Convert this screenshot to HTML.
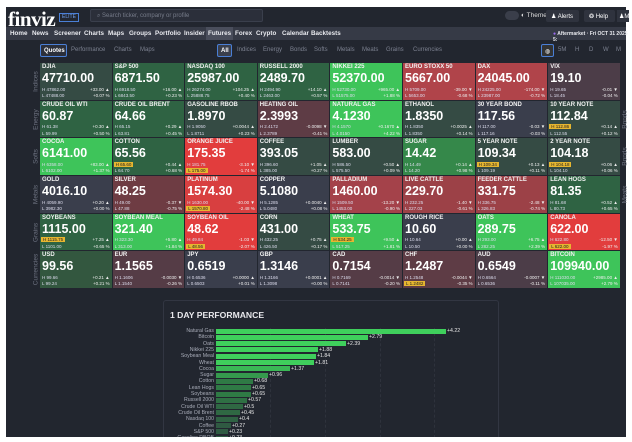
<!DOCTYPE html>
<html><head><meta charset="utf-8"><style>
*{margin:0;padding:0;box-sizing:border-box}
body{width:632px;height:442px;background:#fff;position:relative;overflow:hidden;font-family:"Liberation Sans",sans-serif;color:#fff}
#bg{position:absolute;left:6px;top:7px;width:620px;height:430px;background:#22262f}
.a{position:absolute;white-space:nowrap}
#nav{position:absolute;left:6px;top:27px;width:620px;height:13px;background:#363a46}
.n{position:absolute;top:30px;font-size:6.3px;font-weight:bold;color:#e8e9ee}
.s{position:absolute;top:47px;font-size:6px;color:#7c8190}
.t{position:absolute;width:71.6px;height:36.7px;overflow:hidden}
.t .nm{position:absolute;left:2px;top:1px;font-size:6px;font-weight:bold;color:#f0f0f0}
.t .v{position:absolute;left:2px;top:8px;font-size:12.5px;font-weight:bold}
.t .h,.t .l{position:absolute;left:2px;font-size:4.5px;color:#dde}
.t .h{top:23.5px}.t .l{top:30px}
.t .c,.t .p{position:absolute;right:2px;font-size:4.5px;color:#eee}
.t .c{top:23.5px}.t .p{top:30px}
.hl{background:#e6b630;color:#222;padding:0 2px;margin-left:-1px}
.N{background:#3a3e4c}.SG{background:#354b44}.MG{background:#2f6343}.BG{background:#3ec45a}
.SR{background:#4c3d48}.DR{background:#5e3c45}.MR{background:#9c4147}.RR{background:#b0444a}.BR{background:#e23d3d}
.side{position:absolute;font-size:6.5px;color:#6d7280;transform:rotate(-90deg);transform-origin:center}
.bl{position:absolute;right:418px;font-size:5.2px;color:#a8acb8;text-align:right}
.bar{position:absolute;left:216px;height:5px}
.bv{position:absolute;font-size:5.2px;color:#e6e6e6}
</style></head><body>
<div id="bg"></div>
<div class="a" style="left:8px;top:7px;font-family:'Liberation Serif',serif;font-size:21px;font-weight:bold;letter-spacing:-0.5px">finviz</div>
<div class="a" style="left:59px;top:13px;width:20px;height:9px;border:1px solid #4a7fd6;font-size:5px;color:#6fa0f0;text-align:center;line-height:7px">ELITE</div>
<div class="a" style="left:90px;top:9px;width:173px;height:13px;background:#2b2f3a;border:1px solid #3a3f4c;border-radius:2px;font-size:6px;color:#777c8a;padding:3px 0 0 6px">⌕ Search ticker, company or profile</div>
<div class="a" style="left:505px;top:11px;width:14px;height:9px;border-radius:5px;background:#3a3e4a"></div>
<div class="a" style="left:521px;top:12px;font-size:6.5px;color:#ddd">◐ Theme</div>
<div class="a" style="left:546px;top:10px;width:33px;height:12px;background:#2f333e;border-radius:2px;font-size:6px;padding:3px 0 0 5px">♟ Alerts</div>
<div class="a" style="left:584px;top:10px;width:31px;height:12px;background:#2f333e;border-radius:2px;font-size:6px;padding:3px 0 0 5px">❂ Help</div>
<div class="a" style="left:617px;top:10px;width:12px;height:12px;background:#2f333e;font-size:6px;padding:3px 0 0 2px">♟M</div>
<div id="nav"></div>
<div class="a" style="left:206px;top:27px;width:27px;height:13px;background:#4a4e5c"></div>
<div class="n" style="left:10px">Home</div><div class="n" style="left:32px">News</div><div class="n" style="left:54px">Screener</div><div class="n" style="left:84px">Charts</div><div class="n" style="left:108px">Maps</div><div class="n" style="left:129px">Groups</div><div class="n" style="left:155px">Portfolio</div><div class="n" style="left:184px">Insider</div><div class="n" style="left:208px">Futures</div><div class="n" style="left:235px">Forex</div><div class="n" style="left:256px">Crypto</div><div class="n" style="left:282px">Calendar</div><div class="n" style="left:311px">Backtests</div>
<div class="n" style="left:553px;font-size:5px;top:31px"><span style="color:#9b6cf0">●</span> Aftermarket · Fri OCT 31 2025 5:</div>
<div class="a" style="left:40px;top:44px;width:27px;height:13px;border:1px solid #4a7fd6;border-radius:2px;background:#2b2f3a;font-size:6px;font-weight:bold;padding:3px 0 0 3px">Quotes</div>
<div class="s" style="left:71px">Performance</div><div class="s" style="left:114px">Charts</div><div class="s" style="left:140px">Maps</div>
<div class="a" style="left:217px;top:44px;width:15px;height:13px;background:#3a3f4c;border:1px solid #4a7fd6;border-radius:2px;font-size:6px;font-weight:bold;padding:3px 0 0 3px">All</div>
<div class="s" style="left:237px">Indices</div><div class="s" style="left:263px">Energy</div><div class="s" style="left:290px">Bonds</div><div class="s" style="left:314px">Softs</div><div class="s" style="left:337px">Metals</div><div class="s" style="left:362px">Meats</div><div class="s" style="left:386px">Grains</div><div class="s" style="left:413px">Currencies</div>
<div class="a" style="left:541px;top:44px;width:13px;height:13px;border:1px solid #4a7fd6;border-radius:2px;background:#333;font-size:6px;padding:3px 0 0 3px">◍</div>
<div class="s" style="left:558px">5M</div><div class="s" style="left:575px">H</div><div class="s" style="left:589px">D</div><div class="s" style="left:603px">W</div><div class="s" style="left:616px">M</div>

<div class="side" style="left:24px;top:78px;width:24px;text-align:center">Indices</div>
<div class="side" style="left:24px;top:116px;width:24px;text-align:center">Energy</div>
<div class="side" style="left:24px;top:153px;width:24px;text-align:center">Softs</div>
<div class="side" style="left:24px;top:191px;width:24px;text-align:center">Metals</div>
<div class="side" style="left:24px;top:229px;width:24px;text-align:center">Grains</div>
<div class="side" style="left:18px;top:266px;width:36px;text-align:center">Currencies</div>
<div class="side" style="left:613px;top:116px;width:24px;text-align:center">Bonds</div>
<div class="side" style="left:613px;top:153px;width:24px;text-align:center">Bonds</div>
<div class="side" style="left:613px;top:191px;width:24px;text-align:center">Meats</div>

<!-- Row 1 -->
<div class="t SG" style="left:40px;top:63px"><div class="nm">DJIA</div><div class="v">47710.00</div><div class="h">H 47862.00</div><div class="l">L 47488.00</div><div class="c">+33.00 ▲</div><div class="p">+0.07 %</div></div>
<div class="t MG" style="left:112.6px;top:63px"><div class="nm">S&amp;P 500</div><div class="v">6871.50</div><div class="h">H 6918.50</div><div class="l">L 6843.50</div><div class="c">+16.00 ▲</div><div class="p">+0.23 %</div></div>
<div class="t MG" style="left:185.2px;top:63px"><div class="nm">NASDAQ 100</div><div class="v">25987.00</div><div class="h">H 26274.00</div><div class="l">L 25888.75</div><div class="c">+104.25 ▲</div><div class="p">+0.40 %</div></div>
<div class="t MG" style="left:257.8px;top:63px"><div class="nm">RUSSELL 2000</div><div class="v">2489.70</div><div class="h">H 2494.90</div><div class="l">L 2463.00</div><div class="c">+14.10 ▲</div><div class="p">+0.57 %</div></div>
<div class="t BG" style="left:330.4px;top:63px"><div class="nm">NIKKEI 225</div><div class="v">52370.00</div><div class="h">H 52730.00</div><div class="l">L 51575.00</div><div class="c">+965.00 ▲</div><div class="p">+1.88 %</div></div>
<div class="t RR" style="left:403px;top:63px"><div class="nm">EURO STOXX 50</div><div class="v">5667.00</div><div class="h">H 5709.00</div><div class="l">L 5653.00</div><div class="c">-39.00 ▼</div><div class="p">-0.68 %</div></div>
<div class="t RR" style="left:475.6px;top:63px"><div class="nm">DAX</div><div class="v">24045.00</div><div class="h">H 24225.00</div><div class="l">L 23987.00</div><div class="c">-174.00 ▼</div><div class="p">-0.72 %</div></div>
<div class="t SR" style="left:548.2px;top:63px"><div class="nm">VIX</div><div class="v">19.10</div><div class="h">H 19.65</div><div class="l">L 18.45</div><div class="c">-0.01 ▼</div><div class="p">-0.04 %</div></div>
<!-- Row 2 -->
<div class="t MG" style="left:40px;top:100.7px"><div class="nm">CRUDE OIL WTI</div><div class="v">60.87</div><div class="h">H 61.38</div><div class="l">L 59.99</div><div class="c">+0.30 ▲</div><div class="p">+0.50 %</div></div>
<div class="t MG" style="left:112.6px;top:100.7px"><div class="nm">CRUDE OIL BRENT</div><div class="v">64.66</div><div class="h">H 65.15</div><div class="l">L 63.81</div><div class="c">+0.29 ▲</div><div class="p">+0.45 %</div></div>
<div class="t SG" style="left:185.2px;top:100.7px"><div class="nm">GASOLINE RBOB</div><div class="v">1.8970</div><div class="h">H 1.9050</div><div class="l">L 1.8711</div><div class="c">+0.0044 ▲</div><div class="p">+0.23 %</div></div>
<div class="t DR" style="left:257.8px;top:100.7px"><div class="nm">HEATING OIL</div><div class="v">2.3993</div><div class="h">H 2.4172</div><div class="l">L 2.3789</div><div class="c">-0.0098 ▼</div><div class="p">-0.41 %</div></div>
<div class="t BG" style="left:330.4px;top:100.7px"><div class="nm">NATURAL GAS</div><div class="v">4.1230</div><div class="h">H 4.1570</div><div class="l">L 4.0150</div><div class="c">+0.1670 ▲</div><div class="p">+4.22 %</div></div>
<div class="t SG" style="left:403px;top:100.7px"><div class="nm">ETHANOL</div><div class="v">1.8350</div><div class="h">H 1.8350</div><div class="l">L 1.8350</div><div class="c">+0.0025 ▲</div><div class="p">+0.14 %</div></div>
<div class="t N" style="left:475.6px;top:100.7px"><div class="nm">30 YEAR BOND</div><div class="v">117.56</div><div class="h">H 117.00</div><div class="l">L 117.16</div><div class="c">-0.03 ▼</div><div class="p">-0.03 %</div></div>
<div class="t SG" style="left:548.2px;top:100.7px"><div class="nm">10 YEAR NOTE</div><div class="v">112.84</div><div class="h"><span class="hl">H 112.86</span></div><div class="l">L 112.55</div><div class="c">+0.14 ▲</div><div class="p">+0.12 %</div></div>
<!-- Row 3 -->
<div class="t BG" style="left:40px;top:138.3px"><div class="nm">COCOA</div><div class="v">6141.00</div><div class="h">H 6358.00</div><div class="l">L 6102.00</div><div class="c">+83.00 ▲</div><div class="p">+1.37 %</div></div>
<div class="t MG" style="left:112.6px;top:138.3px"><div class="nm">COTTON</div><div class="v">65.56</div><div class="h"><span class="hl">H 65.60</span></div><div class="l">L 64.70</div><div class="c">+0.44 ▲</div><div class="p">+0.68 %</div></div>
<div class="t BR" style="left:185.2px;top:138.3px"><div class="nm">ORANGE JUICE</div><div class="v">175.35</div><div class="h">H 181.75</div><div class="l"><span class="hl">L 175.00</span></div><div class="c">-3.10 ▼</div><div class="p">-1.74 %</div></div>
<div class="t SG" style="left:257.8px;top:138.3px"><div class="nm">COFFEE</div><div class="v">393.05</div><div class="h">H 396.60</div><div class="l">L 385.00</div><div class="c">+1.05 ▲</div><div class="p">+0.27 %</div></div>
<div class="t SG" style="left:330.4px;top:138.3px"><div class="nm">LUMBER</div><div class="v">583.00</div><div class="h">H 586.50</div><div class="l">L 575.50</div><div class="c">+0.50 ▲</div><div class="p">+0.09 %</div></div>
<div class="t MG" style="left:403px;top:138.3px;background:#35884a"><div class="nm">SUGAR</div><div class="v">14.42</div><div class="h">H 14.49</div><div class="l">L 14.20</div><div class="c">+0.14 ▲</div><div class="p">+0.98 %</div></div>
<div class="t SG" style="left:475.6px;top:138.3px"><div class="nm">5 YEAR NOTE</div><div class="v">109.34</div><div class="h"><span class="hl">H 109.34</span></div><div class="l">L 109.19</div><div class="c">+0.13 ▲</div><div class="p">+0.11 %</div></div>
<div class="t SG" style="left:548.2px;top:138.3px"><div class="nm">2 YEAR NOTE</div><div class="v">104.18</div><div class="h"><span class="hl">H 104.18</span></div><div class="l">L 104.10</div><div class="c">+0.06 ▲</div><div class="p">+0.06 %</div></div>
<!-- Row 4 -->
<div class="t N" style="left:40px;top:176px"><div class="nm">GOLD</div><div class="v">4016.10</div><div class="h">H 4059.90</div><div class="l">L 3982.30</div><div class="c">+0.20 ▲</div><div class="p">+0.00 %</div></div>
<div class="t DR" style="left:112.6px;top:176px;background:#6e3c43"><div class="nm">SILVER</div><div class="v">48.25</div><div class="h">H 49.00</div><div class="l">L 47.88</div><div class="c">-0.37 ▼</div><div class="p">-0.75 %</div></div>
<div class="t BR" style="left:185.2px;top:176px;background:#d83f40"><div class="nm">PLATINUM</div><div class="v">1574.30</div><div class="h">H 1630.00</div><div class="l"><span class="hl">L 1570.80</span></div><div class="c">-40.00 ▼</div><div class="p">-2.48 %</div></div>
<div class="t N" style="left:257.8px;top:176px"><div class="nm">COPPER</div><div class="v">5.1080</div><div class="h">H 5.1285</div><div class="l">L 5.0480</div><div class="c">+0.0040 ▲</div><div class="p">+0.08 %</div></div>
<div class="t MR" style="left:330.4px;top:176px;background:#a4424a"><div class="nm">PALLADIUM</div><div class="v">1460.00</div><div class="h">H 1509.50</div><div class="l">L 1453.00</div><div class="c">-13.20 ▼</div><div class="p">-0.90 %</div></div>
<div class="t MR" style="left:403px;top:176px"><div class="nm">LIVE CATTLE</div><div class="v">229.70</div><div class="h">H 232.25</div><div class="l">L 227.03</div><div class="c">-1.40 ▼</div><div class="p">-0.61 %</div></div>
<div class="t MR" style="left:475.6px;top:176px"><div class="nm">FEEDER CATTLE</div><div class="v">331.75</div><div class="h">H 336.75</div><div class="l">L 326.83</div><div class="c">-2.48 ▼</div><div class="p">-0.74 %</div></div>
<div class="t MG" style="left:548.2px;top:176px"><div class="nm">LEAN HOGS</div><div class="v">81.35</div><div class="h">H 81.68</div><div class="l">L 80.73</div><div class="c">+0.52 ▲</div><div class="p">+0.65 %</div></div>
<!-- Row 5 -->
<div class="t MG" style="left:40px;top:213.7px"><div class="nm">SOYBEANS</div><div class="v">1115.00</div><div class="h"><span class="hl">H 1115.75</span></div><div class="l">L 1101.00</div><div class="c">+7.25 ▲</div><div class="p">+0.65 %</div></div>
<div class="t BG" style="left:112.6px;top:213.7px"><div class="nm">SOYBEAN MEAL</div><div class="v">321.40</div><div class="h">H 323.30</div><div class="l">L 313.00</div><div class="c">+5.80 ▲</div><div class="p">+1.84 %</div></div>
<div class="t BR" style="left:185.2px;top:213.7px"><div class="nm">SOYBEAN OIL</div><div class="v">48.62</div><div class="h">H 49.84</div><div class="l"><span class="hl">L 48.56</span></div><div class="c">-1.03 ▼</div><div class="p">-2.07 %</div></div>
<div class="t SG" style="left:257.8px;top:213.7px"><div class="nm">CORN</div><div class="v">431.00</div><div class="h">H 432.25</div><div class="l">L 426.50</div><div class="c">+0.75 ▲</div><div class="p">+0.17 %</div></div>
<div class="t BG" style="left:330.4px;top:213.7px"><div class="nm">WHEAT</div><div class="v">533.75</div><div class="h"><span class="hl">H 534.25</span></div><div class="l">L 517.25</div><div class="c">+9.50 ▲</div><div class="p">+1.81 %</div></div>
<div class="t N" style="left:403px;top:213.7px"><div class="nm">ROUGH RICE</div><div class="v">10.60</div><div class="h">H 10.64</div><div class="l">L 10.50</div><div class="c">+0.00 ▲</div><div class="p">+0.00 %</div></div>
<div class="t BG" style="left:475.6px;top:213.7px"><div class="nm">OATS</div><div class="v">289.75</div><div class="h">H 293.00</div><div class="l">L 282.25</div><div class="c">+6.75 ▲</div><div class="p">+2.39 %</div></div>
<div class="t BR" style="left:548.2px;top:213.7px"><div class="nm">CANOLA</div><div class="v">622.00</div><div class="h">H 622.80</div><div class="l"><span class="hl">L 622.00</span></div><div class="c">-12.50 ▼</div><div class="p">-1.97 %</div></div>
<!-- Row 6 -->
<div class="t SG" style="left:40px;top:251.3px;background:#33573f"><div class="nm">USD</div><div class="v">99.56</div><div class="h">H 99.66</div><div class="l">L 99.24</div><div class="c">+0.21 ▲</div><div class="p">+0.21 %</div></div>
<div class="t DR" style="left:112.6px;top:251.3px;background:#553c46"><div class="nm">EUR</div><div class="v">1.1565</div><div class="h">H 1.1606</div><div class="l">L 1.1540</div><div class="c">-0.0030 ▼</div><div class="p">-0.26 %</div></div>
<div class="t N" style="left:185.2px;top:251.3px"><div class="nm">JPY</div><div class="v">0.6519</div><div class="h">H 0.6536</div><div class="l">L 0.6503</div><div class="c">+0.0000 ▲</div><div class="p">+0.01 %</div></div>
<div class="t N" style="left:257.8px;top:251.3px"><div class="nm">GBP</div><div class="v">1.3146</div><div class="h">H 1.3166</div><div class="l">L 1.3098</div><div class="c">+0.0001 ▲</div><div class="p">+0.00 %</div></div>
<div class="t DR" style="left:330.4px;top:251.3px;background:#553c46"><div class="nm">CAD</div><div class="v">0.7154</div><div class="h">H 0.7169</div><div class="l">L 0.7141</div><div class="c">-0.0014 ▼</div><div class="p">-0.20 %</div></div>
<div class="t DR" style="left:403px;top:251.3px"><div class="nm">CHF</div><div class="v">1.2487</div><div class="h">H 1.2548</div><div class="l"><span class="hl">L 1.2482</span></div><div class="c">-0.0044 ▼</div><div class="p">-0.35 %</div></div>
<div class="t SR" style="left:475.6px;top:251.3px"><div class="nm">AUD</div><div class="v">0.6549</div><div class="h">H 0.6564</div><div class="l">L 0.6536</div><div class="c">-0.0007 ▼</div><div class="p">-0.11 %</div></div>
<div class="t BG" style="left:548.2px;top:251.3px"><div class="nm">BITCOIN</div><div class="v">109940.00</div><div class="h">H 111030.00</div><div class="l">L 107035.00</div><div class="c">+2985.00 ▲</div><div class="p">+2.79 %</div></div>

<!-- Panel -->
<div class="a" style="left:163px;top:300px;width:336px;height:140px;border:1px solid #323642;border-radius:3px;background:#22262f"></div>
<div class="a" style="left:170px;top:310px;font-size:8.6px;font-weight:bold;color:#e8e8ec">1 DAY PERFORMANCE</div>
<div class="a" style="left:270px;top:328px;width:1px;height:110px;border-left:1px dashed #2e323c"></div>
<div class="a" style="left:325px;top:328px;width:1px;height:110px;border-left:1px dashed #2e323c"></div>
<div class="a" style="left:380px;top:328px;width:1px;height:110px;border-left:1px dashed #2e323c"></div>
<div class="a" style="left:434px;top:328px;width:1px;height:110px;border-left:1px dashed #2e323c"></div>

<div class="bl" style="top:328px">Natural Gas</div><div class="bar" style="top:328.5px;width:230px;background:#3fcf5c"></div><div class="bv" style="top:328px;left:447px">+4.22</div>
<div class="bl" style="top:334.3px">Bitcoin</div><div class="bar" style="top:334.8px;width:152px;background:#3fcf5c"></div><div class="bv" style="top:334.3px;left:369px">+2.79</div>
<div class="bl" style="top:340.6px">Oats</div><div class="bar" style="top:341.1px;width:130px;background:#3fcf5c"></div><div class="bv" style="top:340.6px;left:347px">+2.39</div>
<div class="bl" style="top:346.9px">Nikkei 225</div><div class="bar" style="top:347.4px;width:102px;background:#3fcf5c"></div><div class="bv" style="top:346.9px;left:319px">+1.88</div>
<div class="bl" style="top:353.2px">Soybean Meal</div><div class="bar" style="top:353.7px;width:100px;background:#3fcf5c"></div><div class="bv" style="top:353.2px;left:317px">+1.84</div>
<div class="bl" style="top:359.5px">Wheat</div><div class="bar" style="top:360px;width:98px;background:#3fcf5c"></div><div class="bv" style="top:359.5px;left:315px">+1.81</div>
<div class="bl" style="top:365.8px">Cocoa</div><div class="bar" style="top:366.3px;width:74px;background:#3ab855"></div><div class="bv" style="top:365.8px;left:291px">+1.37</div>
<div class="bl" style="top:372.1px">Sugar</div><div class="bar" style="top:372.6px;width:52px;background:#359a4d"></div><div class="bv" style="top:372.1px;left:269px">+0.96</div>
<div class="bl" style="top:378.4px">Cotton</div><div class="bar" style="top:378.9px;width:37px;background:#2f7a45"></div><div class="bv" style="top:378.4px;left:254px">+0.68</div>
<div class="bl" style="top:384.7px">Lean Hogs</div><div class="bar" style="top:385.2px;width:35px;background:#2f7a45"></div><div class="bv" style="top:384.7px;left:252px">+0.65</div>
<div class="bl" style="top:391px">Soybeans</div><div class="bar" style="top:391.5px;width:35px;background:#2f7a45"></div><div class="bv" style="top:391px;left:252px">+0.65</div>
<div class="bl" style="top:397.3px">Russell 2000</div><div class="bar" style="top:397.8px;width:31px;background:#2f7044"></div><div class="bv" style="top:397.3px;left:248px">+0.57</div>
<div class="bl" style="top:403.6px">Crude Oil WTI</div><div class="bar" style="top:404.1px;width:27px;background:#2f6843"></div><div class="bv" style="top:403.6px;left:244px">+0.5</div>
<div class="bl" style="top:409.9px">Crude Oil Brent</div><div class="bar" style="top:410.4px;width:24px;background:#2f6843"></div><div class="bv" style="top:409.9px;left:241px">+0.45</div>
<div class="bl" style="top:416.2px">Nasdaq 100</div><div class="bar" style="top:416.7px;width:22px;background:#2f6243"></div><div class="bv" style="top:416.2px;left:239px">+0.4</div>
<div class="bl" style="top:422.5px">Coffee</div><div class="bar" style="top:423px;width:15px;background:#2f5a42"></div><div class="bv" style="top:422.5px;left:232px">+0.27</div>
<div class="bl" style="top:428.8px">S&amp;P 500</div><div class="bar" style="top:429.3px;width:12px;background:#2f5a42"></div><div class="bv" style="top:428.8px;left:229px">+0.23</div>
<div class="bl" style="top:435.1px">Gasoline RBOB</div><div class="bar" style="top:435.6px;width:12px;background:#2f5a42"></div><div class="bv" style="top:435.1px;left:229px">+0.23</div>
<div class="a" style="left:0;top:437px;width:632px;height:5px;background:#fff"></div>
</body></html>
